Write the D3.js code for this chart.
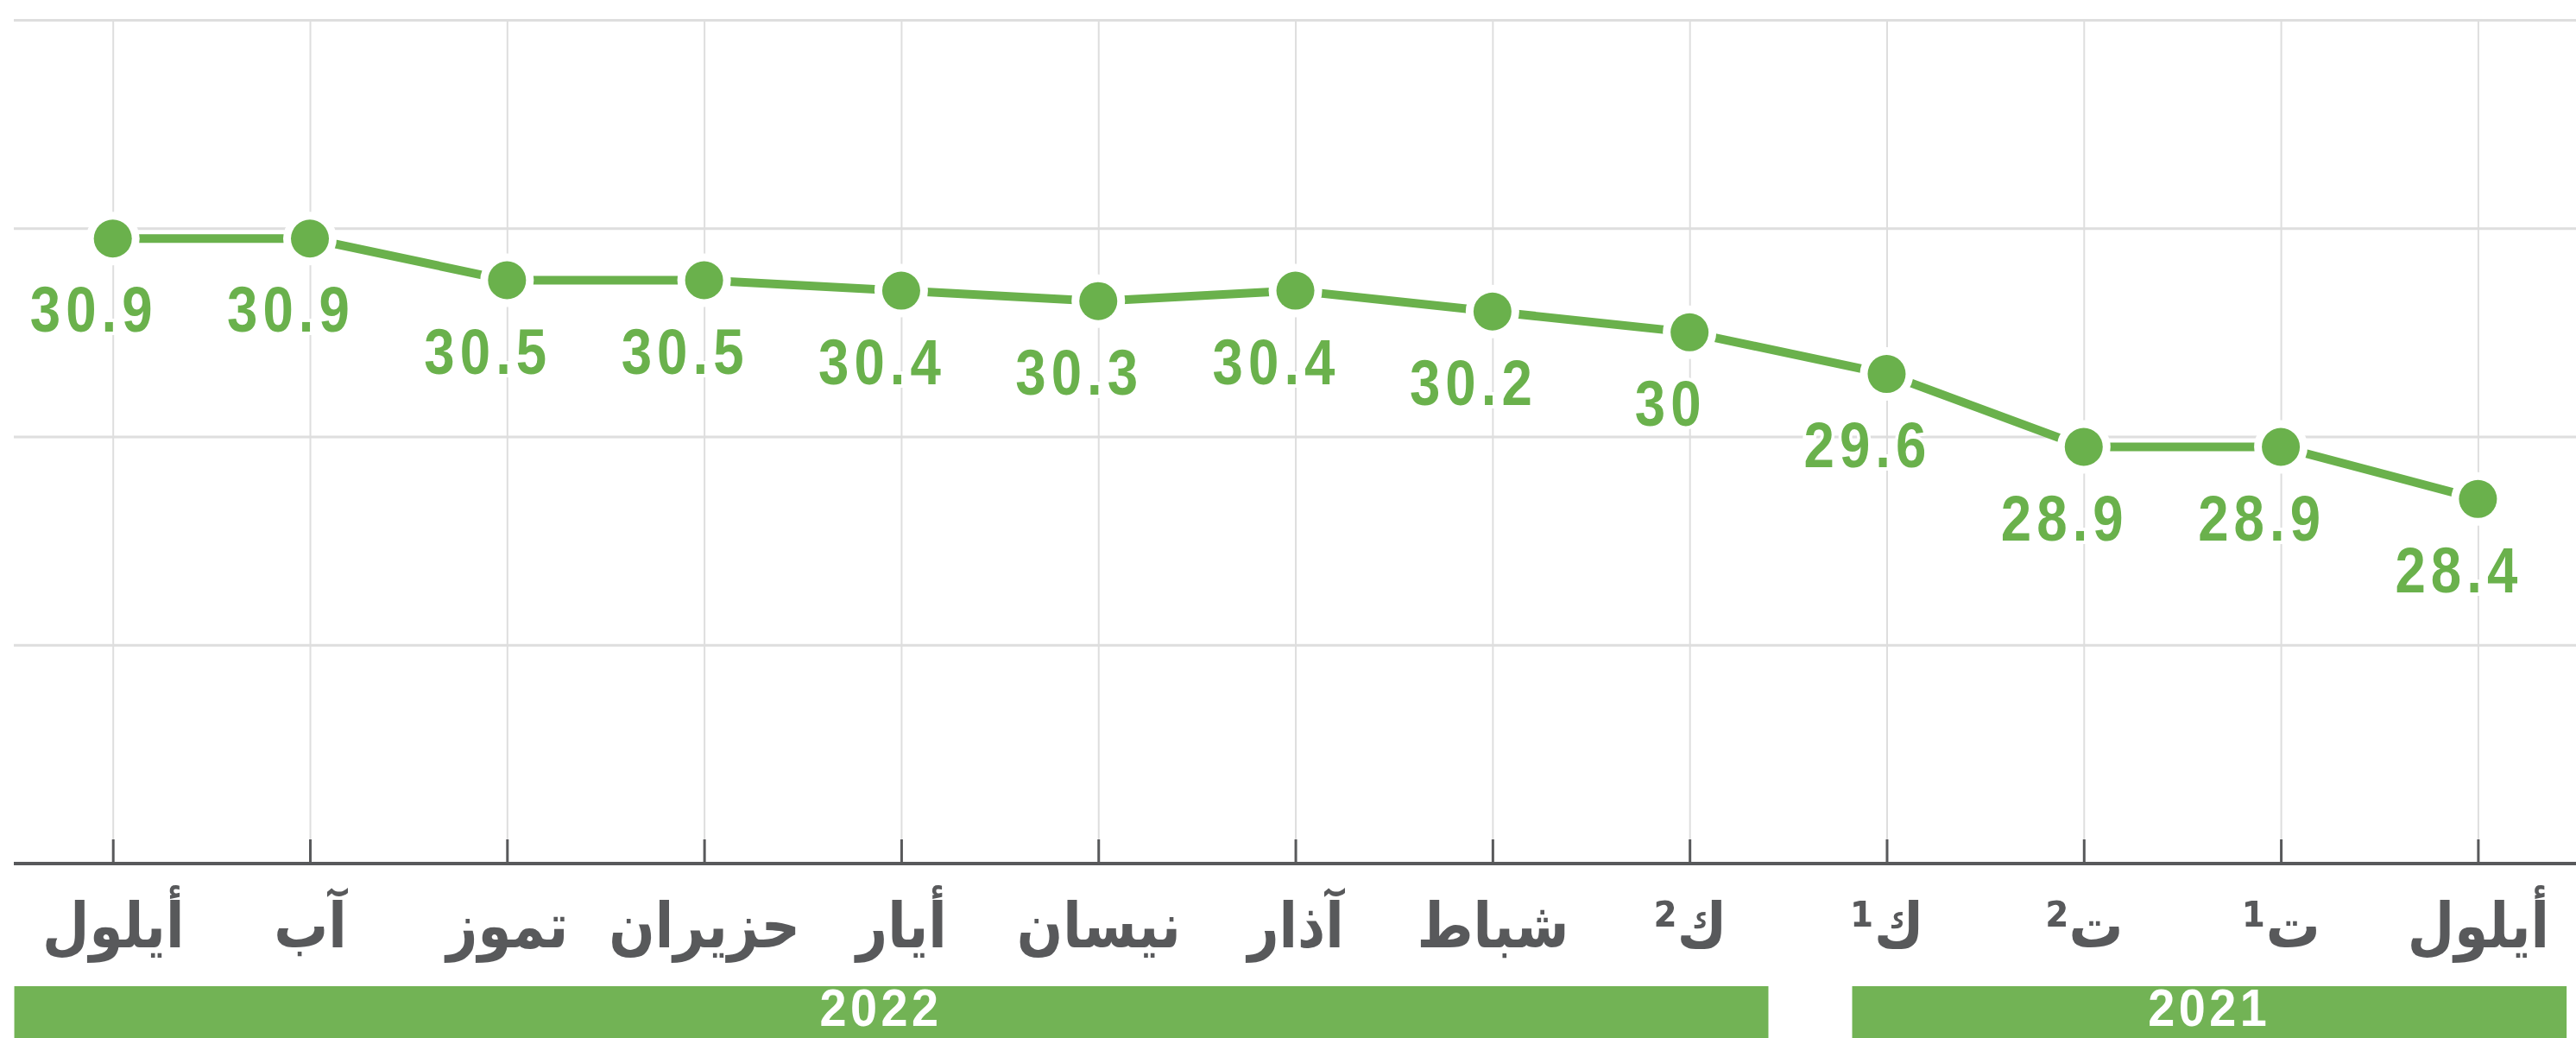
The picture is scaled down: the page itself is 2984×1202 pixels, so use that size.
<!DOCTYPE html>
<html>
<head>
<meta charset="utf-8">
<script src="https://cdn.jsdelivr.net/npm/d3@7"></script>
<style>
  html, body { margin: 0; padding: 0; background: #ffffff; }
  svg { display: block; }
</style>
</head>
<body>
<svg id="chart" width="2984" height="1202"></svg>
<script>
// ---- data (chronological order: Sep 2021 -> Sep 2022) ----
const monthNames = ["أيلول", "ت", "ت", "ك", "ك", "شباط", "آذار", "نيسان", "أيار", "حزيران", "تموز", "آب", "أيلول"];
const monthSup   = ["", "¹", "²", "¹", "²", "", "", "", "", "", "", "", ""];
const values     = [28.4, 28.9, 28.9, 29.6, 30, 30.2, 30.4, 30.3, 30.4, 30.5, 30.5, 30.9, 30.9];
const valueLabels = ["28.4", "28.9", "28.9", "29.6", "30", "30.2", "30.4", "30.3", "30.4", "30.5", "30.5", "30.9", "30.9"];
const yearLabels = ["2021", "2022"];
const yearFirstMonth = [0, 4];
const yearLastMonth  = [3, 12];
const yTicks = [27, 29, 31, 33];

// ---- layout ----
const W = 2984, H = 1202;
const plotLeft = 16, plotRight = W;
const plotTop = 23, axisY = 1000;
const green = "#6ab14c";
const barGreen = "#72b355";
const gridColor = "#dedede";
const axisColor = "#58595b";

const svg = d3.select("#chart");
svg.append("rect").attr("width", W).attr("height", H).attr("fill", "#fff");

const idx = d3.range(values.length);
const x = d3.scalePoint().domain(idx).range([2870.4, 130.7]).padding(0);
const step = Math.abs(x(1) - x(0));
const y = d3.scaleLinear().domain([24.9, 33]).range([axisY, plotTop]);

// horizontal gridlines
const gy = svg.append("g")
  .attr("transform", `translate(${plotLeft},0)`)
  .call(d3.axisLeft(y).tickValues(yTicks).tickSize(-(plotRight - plotLeft)).tickFormat(""));
gy.select(".domain").remove();
gy.selectAll(".tick line").attr("stroke", gridColor).attr("stroke-width", 3);

// vertical gridlines
const gx = svg.append("g")
  .attr("transform", `translate(0,${axisY})`)
  .call(d3.axisBottom(x).tickSize(-(axisY - plotTop)).tickFormat(""));
gx.select(".domain").remove();
gx.selectAll(".tick line").attr("stroke", gridColor).attr("stroke-width", 2);

// x axis line + ticks + labels
const ax = svg.append("g")
  .attr("transform", `translate(0,${axisY})`)
  .call(d3.axisBottom(x).tickSize(-28).tickSizeOuter(0).tickFormat(""));
ax.select(".domain").remove();
ax.selectAll(".tick line").attr("stroke", axisColor).attr("stroke-width", 3);
ax.selectAll(".tick text").remove();
ax.append("line")
  .attr("x1", plotLeft).attr("x2", plotRight)
  .attr("y1", 0).attr("y2", 0)
  .attr("stroke", axisColor).attr("stroke-width", 4);

ax.selectAll(".tick").append("text")
  .attr("transform", "translate(0,97) scale(0.95,1.1)")
  .attr("text-anchor", "middle")
  .attr("direction", "ltr")
  .attr("fill", axisColor)
  .style("font-family", "'DejaVu Sans', sans-serif")
  .style("font-weight", "bold")
  .style("font-size", "66px")
  .text(d => monthSup[d] + monthNames[d]);

// line
const line = d3.line().x((d, i) => x(i)).y(d => y(d));
svg.append("path")
  .datum(values)
  .attr("d", line)
  .attr("fill", "none")
  .attr("stroke", green)
  .attr("stroke-width", 10);

// halos and dots
svg.append("g").selectAll("circle").data(values).join("circle")
  .attr("cx", (d, i) => x(i)).attr("cy", d => y(d))
  .attr("r", 31).attr("fill", "#fff");
svg.append("g").selectAll("circle").data(values).join("circle")
  .attr("cx", (d, i) => x(i)).attr("cy", d => y(d))
  .attr("r", 22).attr("fill", green);

// value labels
svg.append("g").selectAll("text").data(values).join("text")
  .attr("transform", (d, i) => `translate(${x(i) - 22},${y(d) + 108}) scale(0.86,1)`)
  .attr("text-anchor", "middle")
  .attr("fill", green)
  .attr("stroke", "#fff")
  .attr("stroke-width", 8)
  .attr("paint-order", "stroke")
  .style("font-family", "'Liberation Sans', Arial, sans-serif")
  .style("font-weight", "bold")
  .style("font-size", "74px")
  .style("letter-spacing", "7px")
  .text((d, i) => valueLabels[i]);

// year bars
const barTop = 1142;
const yearG = svg.append("g");
yearLabels.forEach((yr, k) => {
  const xa = x(yearFirstMonth[k]);   // rightmost month of the year (reversed axis)
  const xb = x(yearLastMonth[k]);    // leftmost month
  const left = Math.max(plotLeft, xb - step * (k === 1 ? 0.5 : 0.175));
  const right = Math.min(W, xa + step * (k === 1 ? 0.4 : 0.45));
  yearG.append("rect")
    .attr("x", left).attr("y", barTop)
    .attr("width", right - left).attr("height", H - barTop + 10)
    .attr("fill", barGreen);
  yearG.append("text")
    .attr("transform", `translate(${(left + right) / 2 - (k === 1 ? 12 : 0)},${H - 14}) scale(0.9,1)`)
    .attr("text-anchor", "middle")
    .attr("fill", "#fff")
    .style("font-family", "'Liberation Sans', Arial, sans-serif")
    .style("font-weight", "bold")
    .style("font-size", "62px")
    .style("letter-spacing", "5px")
    .text(yr);
});
</script>
</body>
</html>
